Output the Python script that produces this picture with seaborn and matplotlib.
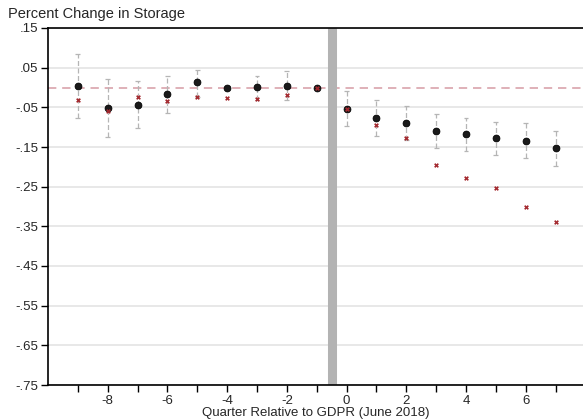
import numpy as np
import pandas as pd
import matplotlib
matplotlib.use("Agg")
import matplotlib.pyplot as plt
import seaborn as sns

# event-time quarters relative to GDPR
quarters = [-9, -8, -7, -6, -5, -4, -3, -2, -1, 0, 1, 2, 3, 4, 5, 6, 7]

# point estimates (black dots)
estimate = [0.003, -0.052, -0.043, -0.017, 0.014, 0.000, 0.002, 0.005, 0.000,
            -0.054, -0.078, -0.090, -0.110, -0.117, -0.128, -0.134, -0.153]

# confidence interval bounds (gray caps)
ci_upper = [0.084, 0.021, 0.016, 0.030, 0.044, 0.003, 0.028, 0.041, 0.000,
            -0.010, -0.032, -0.047, -0.068, -0.076, -0.086, -0.090, -0.109]
ci_lower = [-0.077, -0.125, -0.103, -0.065, -0.023, -0.003, -0.032, -0.032, 0.000,
            -0.098, -0.122, -0.133, -0.153, -0.160, -0.171, -0.178, -0.197]

# alternative estimates (red x)
alt_estimate = [-0.032, -0.059, -0.025, -0.033, -0.023, -0.026, -0.028, -0.019, 0.000,
                -0.054, -0.094, -0.127, -0.196, -0.227, -0.253, -0.301, -0.340]

y_ticks = [0.15, 0.05, -0.05, -0.15, -0.25, -0.35, -0.45, -0.55, -0.65, -0.75]
y_tick_labels = [".15", ".05", "-.05", "-.15", "-.25", "-.35", "-.45", "-.55", "-.65", "-.75"]
x_label_ticks = [-8, -6, -4, -2, 0, 2, 4, 6]

df = pd.DataFrame({
    "quarter": quarters,
    "estimate": estimate,
    "ci_upper": ci_upper,
    "ci_lower": ci_lower,
    "alt": alt_estimate,
})

sns.set_theme(style="white")
plt.rcParams["font.family"] = ["Liberation Sans", "DejaVu Sans"]

fig = plt.figure(figsize=(5.83, 4.2), dpi=100)
ax = fig.add_axes([48 / 583, 35 / 420, 1 - 48 / 583, (385 - 28) / 420])

# horizontal grid
for yt in y_ticks:
    ax.axhline(yt, color="#e4e4e4", lw=1.2, zorder=0)

# zero reference line and GDPR marker
ax.axhline(0, color="#d9a3ab", lw=1.2, ls=(0, (5, 3.5)), zorder=1)
ax.axvline(-0.5, color="#b3b3b3", lw=6.5, zorder=1)

# confidence intervals
ci = df[df.ci_upper != df.ci_lower]
ax.vlines(ci.quarter, ci.ci_lower, ci.ci_upper, color="#b5b5b5", lw=0.9,
          linestyles=(0, (4, 2)), zorder=2)
ax.hlines(ci.ci_upper, ci.quarter - 0.08, ci.quarter + 0.08, color="#b5b5b5", lw=0.9, zorder=2)
ax.hlines(ci.ci_lower, ci.quarter - 0.08, ci.quarter + 0.08, color="#b5b5b5", lw=0.9, zorder=2)

sns.scatterplot(data=df, x="quarter", y="estimate", ax=ax, color="#1a1a1a",
                edgecolor="#000000", linewidth=0.6, s=24, zorder=3)
sns.scatterplot(data=df, x="quarter", y="alt", ax=ax, color="#a3282e",
                marker="X", s=12, linewidth=0, zorder=4)

ax.set_xlim(-10, 7.92)
ax.set_ylim(-0.75, 0.15)
ax.set_yticks(y_ticks)
ax.set_yticklabels(y_tick_labels)
ax.set_xticks(quarters, minor=True)
ax.set_xticks(x_label_ticks)
ax.set_xticklabels([str(v) for v in x_label_ticks])
ax.tick_params(axis="both", which="both", direction="out", length=5, width=1,
               color="#000000", labelsize=9.5, pad=2)
ax.tick_params(axis="x", which="both", bottom=True)
ax.tick_params(axis="y", left=True)

for side in ["left", "bottom", "top"]:
    ax.spines[side].set_color("#000000")
    ax.spines[side].set_linewidth(1.2)
ax.spines["right"].set_visible(False)

ax.set_xlabel("Quarter Relative to GDPR (June 2018)", fontsize=9.5, labelpad=0)
ax.set_ylabel("")
fig.text(8 / 583, 1 - 14 / 420, "Percent Change in Storage", fontsize=10.5,
         va="center", ha="left")

fig.savefig("out.png", dpi=100)
